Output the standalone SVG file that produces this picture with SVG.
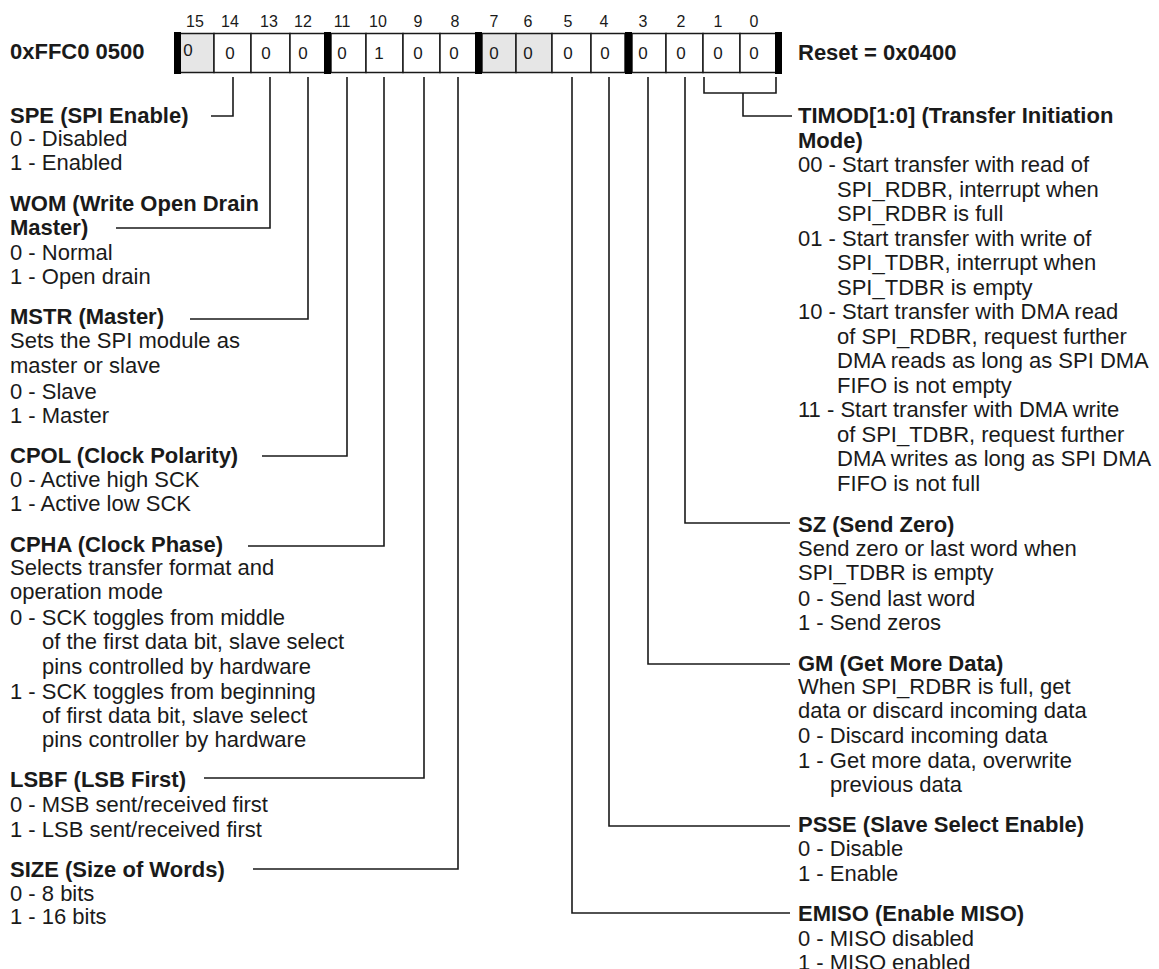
<svg xmlns="http://www.w3.org/2000/svg" width="1159" height="969" viewBox="0 0 1159 969">
<style>
  text { font-family: "Liberation Sans", Arial, Helvetica, sans-serif; fill: #1a1a1a; }
  .t { font-size: 22px; }
  .b { font-size: 22px; font-weight: bold; }
  .num { font-size: 16px; text-anchor: middle; }
  .val { font-size: 17px; text-anchor: middle; }
  .cell { fill: #ffffff; stroke: #1a1a1a; stroke-width: 1.5; }
  .rsv { fill: #e6e6e6; }
  .bar { fill: #000000; }
  .wire { fill: none; stroke: #1a1a1a; stroke-width: 1.6; }
</style>
<rect width="1159" height="969" fill="#ffffff"/>

<!-- register address and reset value -->
<g id="register">
  <text class="b" x="10" y="59">0xFFC0 0500</text>
  <text class="b" x="798" y="60">Reset = 0x0400</text>

  <!-- bit numbers -->
  <g id="bit-numbers">
    <text class="num" x="195" y="27">15</text>
    <text class="num" x="230" y="27">14</text>
    <text class="num" x="269" y="27">13</text>
    <text class="num" x="303" y="27">12</text>
    <text class="num" x="342" y="27">11</text>
    <text class="num" x="378" y="27">10</text>
    <text class="num" x="418" y="27">9</text>
    <text class="num" x="455" y="27">8</text>
    <text class="num" x="494" y="27">7</text>
    <text class="num" x="528" y="27">6</text>
    <text class="num" x="568" y="27">5</text>
    <text class="num" x="604" y="27">4</text>
    <text class="num" x="643" y="27">3</text>
    <text class="num" x="681" y="27">2</text>
    <text class="num" x="718" y="27">1</text>
    <text class="num" x="754" y="27">0</text>
  </g>

  <!-- bit cells -->
  <g id="cells">
    <rect class="cell rsv" x="180" y="33.5" width="34" height="39"/>
    <rect class="cell" x="214" y="33.5" width="37" height="39"/>
    <rect class="cell" x="251" y="33.5" width="39" height="39"/>
    <rect class="cell" x="290" y="33.5" width="35" height="39"/>
    <rect class="cell" x="331" y="33.5" width="35" height="39"/>
    <rect class="cell" x="366" y="33.5" width="37" height="39"/>
    <rect class="cell" x="403" y="33.5" width="37" height="39"/>
    <rect class="cell" x="440" y="33.5" width="36" height="39"/>
    <rect class="cell rsv" x="482" y="33.5" width="34" height="39"/>
    <rect class="cell rsv" x="516" y="33.5" width="36" height="39"/>
    <rect class="cell" x="552" y="33.5" width="39" height="39"/>
    <rect class="cell" x="591" y="33.5" width="34" height="39"/>
    <rect class="cell" x="632" y="33.5" width="34" height="39"/>
    <rect class="cell" x="666" y="33.5" width="37" height="39"/>
    <rect class="cell" x="703" y="33.5" width="37" height="39"/>
    <rect class="cell" x="740" y="33.5" width="36" height="39"/>
    <!-- nibble separators -->
    <rect class="bar" x="174" y="32" width="7" height="42"/>
    <rect class="bar" x="324" y="32" width="7" height="42"/>
    <rect class="bar" x="475" y="32" width="7" height="42"/>
    <rect class="bar" x="625" y="32" width="7" height="42"/>
    <rect class="bar" x="775" y="32" width="7" height="42"/>
  </g>

  <!-- reset values -->
  <g id="values">
    <text class="val" x="188" y="56">0</text>
    <text class="val" x="230" y="59">0</text>
    <text class="val" x="266" y="59">0</text>
    <text class="val" x="303" y="59">0</text>
    <text class="val" x="342" y="59">0</text>
    <text class="val" x="379" y="59">1</text>
    <text class="val" x="418" y="59">0</text>
    <text class="val" x="454" y="59">0</text>
    <text class="val" x="494" y="59">0</text>
    <text class="val" x="528" y="59">0</text>
    <text class="val" x="568" y="59">0</text>
    <text class="val" x="605" y="59">0</text>
    <text class="val" x="643" y="59">0</text>
    <text class="val" x="681" y="59">0</text>
    <text class="val" x="718" y="59">0</text>
    <text class="val" x="754" y="59">0</text>
  </g>
</g>

<!-- leader lines from each bit to its description -->
<g id="connectors">
  <polyline class="wire" points="233,77 233,116 211,116"/>
  <polyline class="wire" points="270,77 270,228 116,228"/>
  <polyline class="wire" points="308,77 308,319 190,319"/>
  <polyline class="wire" points="347,77 347,456 262,456"/>
  <polyline class="wire" points="384,77 384,546 248,546"/>
  <polyline class="wire" points="424,77 424,778 204,778"/>
  <polyline class="wire" points="458,77 458,869 253,869"/>
  <polyline class="wire" points="572,77 572,913 790,913"/>
  <polyline class="wire" points="609,77 609,826 790,826"/>
  <polyline class="wire" points="648,77 648,664 790,664"/>
  <polyline class="wire" points="685,77 685,523 790,523"/>
  <polyline class="wire" points="704,77 704,93 776,93 776,77"/>
  <polyline class="wire" points="743,93 743,116 792,116"/>
</g>

<!-- left-hand field descriptions -->
<g id="spe">
  <text class="b" x="10" y="123">SPE (SPI Enable)</text>
  <text class="t" x="10" y="146">0 - Disabled</text>
  <text class="t" x="10" y="170">1 - Enabled</text>
</g>
<g id="wom">
  <text class="b" x="10" y="211">WOM (Write Open Drain</text>
  <text class="b" x="10" y="235">Master)</text>
  <text class="t" x="10" y="260">0 - Normal</text>
  <text class="t" x="10" y="284">1 - Open drain</text>
</g>
<g id="mstr">
  <text class="b" x="10" y="324">MSTR (Master)</text>
  <text class="t" x="10" y="348">Sets the SPI module as</text>
  <text class="t" x="10" y="373">master or slave</text>
  <text class="t" x="10" y="399">0 - Slave</text>
  <text class="t" x="10" y="423">1 - Master</text>
</g>
<g id="cpol">
  <text class="b" x="10" y="463">CPOL (Clock Polarity)</text>
  <text class="t" x="10" y="487">0 - Active high SCK</text>
  <text class="t" x="10" y="511">1 - Active low SCK</text>
</g>
<g id="cpha">
  <text class="b" x="10" y="552">CPHA (Clock Phase)</text>
  <text class="t" x="10" y="575">Selects transfer format and</text>
  <text class="t" x="10" y="599">operation mode</text>
  <text class="t" x="10" y="625">0 - SCK toggles from middle</text>
  <text class="t" x="42" y="649">of the first data bit, slave select</text>
  <text class="t" x="42" y="674">pins controlled by hardware</text>
  <text class="t" x="10" y="699">1 - SCK toggles from beginning</text>
  <text class="t" x="42" y="723">of first data bit, slave select</text>
  <text class="t" x="42" y="747">pins controller by hardware</text>
</g>
<g id="lsbf">
  <text class="b" x="10" y="787">LSBF (LSB First)</text>
  <text class="t" x="10" y="812">0 - MSB sent/received first</text>
  <text class="t" x="10" y="837">1 - LSB sent/received first</text>
</g>
<g id="size">
  <text class="b" x="10" y="877">SIZE (Size of Words)</text>
  <text class="t" x="10" y="901">0 - 8 bits</text>
  <text class="t" x="10" y="924">1 - 16 bits</text>
</g>

<!-- right-hand field descriptions -->
<g id="timod">
  <text class="b" x="798" y="123">TIMOD[1:0] (Transfer Initiation</text>
  <text class="b" x="798" y="147.5">Mode)</text>
  <text class="t" x="798" y="172">00 - Start transfer with read of</text>
  <text class="t" x="837" y="196.5">SPI_RDBR, interrupt when</text>
  <text class="t" x="837" y="221">SPI_RDBR is full</text>
  <text class="t" x="798" y="245.5">01 - Start transfer with write of</text>
  <text class="t" x="837" y="270">SPI_TDBR, interrupt when</text>
  <text class="t" x="837" y="294.5">SPI_TDBR is empty</text>
  <text class="t" x="798" y="319">10 - Start transfer with DMA read</text>
  <text class="t" x="837" y="343.5">of SPI_RDBR, request further</text>
  <text class="t" x="837" y="368">DMA reads as long as SPI DMA</text>
  <text class="t" x="837" y="392.5">FIFO is not empty</text>
  <text class="t" x="798" y="417">11 - Start transfer with DMA write</text>
  <text class="t" x="837" y="441.5">of SPI_TDBR, request further</text>
  <text class="t" x="837" y="466">DMA writes as long as SPI DMA</text>
  <text class="t" x="837" y="490.5">FIFO is not full</text>
</g>
<g id="sz">
  <text class="b" x="798" y="532">SZ (Send Zero)</text>
  <text class="t" x="798" y="556">Send zero or last word when</text>
  <text class="t" x="798" y="580">SPI_TDBR is empty</text>
  <text class="t" x="798" y="606">0 - Send last word</text>
  <text class="t" x="798" y="630">1 - Send zeros</text>
</g>
<g id="gm">
  <text class="b" x="798" y="671">GM (Get More Data)</text>
  <text class="t" x="798" y="694">When SPI_RDBR is full, get</text>
  <text class="t" x="798" y="718">data or discard incoming data</text>
  <text class="t" x="798" y="743">0 - Discard incoming data</text>
  <text class="t" x="798" y="768">1 - Get more data, overwrite</text>
  <text class="t" x="830" y="792">previous data</text>
</g>
<g id="psse">
  <text class="b" x="798" y="832">PSSE (Slave Select Enable)</text>
  <text class="t" x="798" y="856">0 - Disable</text>
  <text class="t" x="798" y="881">1 - Enable</text>
</g>
<g id="emiso">
  <text class="b" x="798" y="921">EMISO (Enable MISO)</text>
  <text class="t" x="798" y="946">0 - MISO disabled</text>
  <text class="t" x="798" y="970">1 - MISO enabled</text>
</g>
</svg>
